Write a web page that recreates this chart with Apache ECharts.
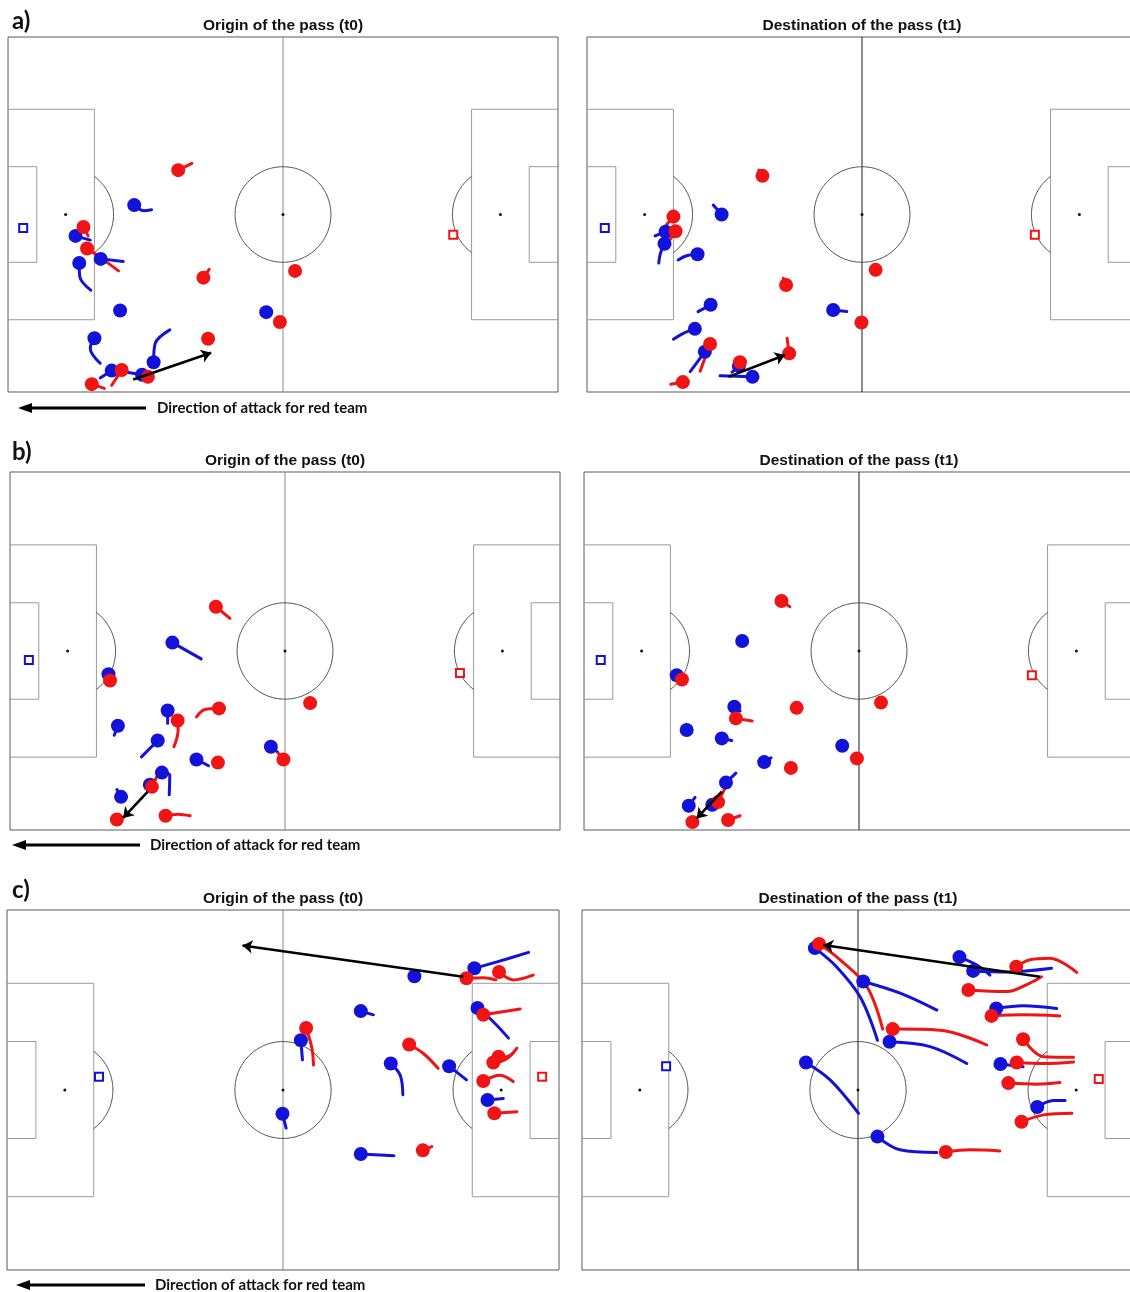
<!DOCTYPE html>
<html>
<head>
<meta charset="utf-8">
<script src="https://cdn.jsdelivr.net/npm/echarts@6/dist/echarts.min.js"></script>
<style>
  html, body { margin: 0; padding: 0; background: #ffffff; }
  #chart { width: 1130px; height: 1292px; }
</style>
</head>
<body>
<div id="chart"></div>
<script>
// Player positions in metres on a 105 x 68 pitch (x from the left goal line, y from the top touchline).
// Each trail lists the earlier positions of that player, starting next to the dot.

// ---- a) origin (t0) ----
const aOriginRed = [[32.5,25.5],[14.4,36.4],[15.1,40.5],[37.3,46.1],[54.8,44.8],[51.9,54.6],[38.2,57.8],[21.7,63.8],[26.7,65.1],[16.0,66.5]];
const aOriginRedTrails = [[[35.1,24.2]],[[15.3,38.1]],[[18.0,42.5],[21.1,44.8]],[[38.4,44.5]],[],[],[],[[19.8,66.7]],[],[[18.4,67.3]]];
const aOriginBlue = [[24.1,32.2],[12.9,38.1],[17.7,42.5],[13.6,43.3],[21.4,52.4],[49.3,52.7],[16.5,57.7],[27.8,62.3],[19.8,63.9],[25.6,64.7]];
const aOriginBlueTrails = [[[26.0,33.3],[27.4,33.1]],[[15.7,38.9]],[[22.0,43.0]],[[13.7,45.9],[15.8,48.5]],[],[],[[15.7,59.6],[17.6,62.5]],[[28.1,58.7],[30.9,56.1]],[[17.6,65.3]],[[22.7,64.2]]];
const aOriginKeepers = { blue: [2.9,36.6], red: [85.0,37.9] };
const aOriginPass = [[23.9,65.6],[38.8,60.5]];

// ---- a) destination (t1) ----
const aDestRed = [[33.5,26.6],[16.5,34.4],[16.9,37.2],[38.0,47.5],[55.1,44.6],[52.4,54.7],[38.6,60.6],[23.5,58.8],[29.2,62.3],[18.3,66.1]];
const aDestRedTrails = [[[32.8,25.5]],[[14.9,36.3]],[[15.2,39.8]],[[37.5,46.2]],[],[],[[38.2,57.7]],[[21.6,64.0]],[[28.8,63.4]],[[16.0,66.5]]];
const aDestBlue = [[25.7,34.0],[15.0,37.3],[14.8,39.6],[21.1,41.6],[23.6,51.3],[47.0,52.3],[20.6,55.9],[22.5,60.3],[29.0,63.0],[31.6,65.1]];
const aDestBlueTrails = [[[24.1,32.2]],[[13.0,38.1]],[[14.0,41.5],[13.7,43.3]],[[19.0,41.9],[17.4,42.7]],[[21.2,52.6]],[[49.6,52.6]],[[18.3,56.8],[16.5,57.9]],[[19.7,64.1]],[[27.7,64.2]],[[25.4,64.9]]];
const aDestKeepers = { blue: [3.4,36.6], red: [85.5,37.9] };
const aDestPass = [[27.0,65.1],[37.8,60.9]];

// ---- b) origin (t0) ----
const bOriginRed = [[39.3,25.6],[19.1,39.6],[39.9,44.9],[32.0,47.2],[57.3,43.9],[39.7,55.2],[52.2,54.6],[27.1,59.8],[20.4,66.0],[29.7,65.3]];
const bOriginRedTrails = [[[42.0,27.8]],[],[[37.2,45.1],[35.6,46.5]],[[32.1,49.0],[31.3,52.2]],[],[],[[51.2,53.4]],[[28.0,57.9]],[],[[32.1,65.0],[34.4,65.3]]];
const bOriginBlue = [[31.0,32.4],[18.8,38.4],[30.1,45.3],[20.6,48.2],[28.2,51.0],[35.6,54.6],[49.8,52.2],[29.0,57.1],[26.7,59.4],[21.2,61.7]];
const bOriginBlueTrails = [[[36.5,35.5]],[],[[30.1,47.7]],[[19.9,50.0]],[[25.1,54.1]],[[37.9,55.8]],[[51.1,53.2]],[[30.5,57.6],[30.4,61.3]],[],[[20.4,60.3]]];
const bOriginKeepers = { blue: [3.6,35.7], red: [85.9,38.2] };
const bOriginPass = [[26.3,60.7],[21.6,65.7]];

// ---- b) destination (t1) ----
const bDestRed = [[37.7,24.5],[18.7,39.4],[40.6,44.8],[56.7,43.8],[29.0,46.8],[52.1,54.4],[39.5,56.2],[25.6,62.7],[20.7,66.5],[27.5,66.1]];
const bDestRedTrails = [[[39.3,25.6]],[],[],[],[[32.1,47.3]],[],[],[[26.9,60.1]],[],[[29.8,65.3]]];
const bDestBlue = [[30.2,32.1],[17.7,38.6],[28.7,44.6],[19.6,49.0],[26.3,50.6],[49.3,52.0],[34.4,55.1],[27.1,59.0],[24.5,63.2],[20.0,63.4]];
const bDestBlueTrails = [[],[],[[29.8,45.4]],[],[[28.2,51.0]],[],[[35.7,54.3]],[[29.0,57.2]],[],[[21.2,61.8]]];
const bDestKeepers = { blue: [3.2,35.7], red: [85.5,38.6] };
const bDestPass = [[26.3,60.7],[21.5,65.8]];

// ---- c) origin (t0) ----
const cOriginRed = [[87.4,12.9],[93.6,11.7],[90.6,19.8],[56.9,22.3],[76.5,25.4],[93.5,27.7],[92.5,28.8],[90.6,32.3],[92.7,38.4],[79.1,45.4]];
const cOriginRedTrails = [[[90.6,12.8],[93.0,13.2]],[[96.3,13.2],[100.1,12.3]],[[97.6,18.7]],[[58.0,26.1],[58.3,29.3]],[[79.2,27.1],[82.0,29.9]],[[95.1,27.7],[97.0,26.1]],[[94.7,28.3],[96.3,27.0]],[[93.8,31.2],[96.3,32.4]],[[97.0,38.1]],[[80.8,44.7]]];
const cOriginBlue = [[88.9,11.0],[77.5,12.5],[67.3,19.1],[89.5,18.5],[55.9,24.6],[73.0,29.0],[84.1,29.5],[91.4,35.9],[52.4,38.5],[67.3,46.1]];
const cOriginBlueTrails = [[[93.2,9.8],[99.2,8.0]],[],[[69.7,19.8]],[[92.5,21.1],[95.4,24.2]],[[56.2,28.3]],[[74.8,31.2],[75.3,34.9]],[[87.4,32.1]],[[94.4,35.6]],[[53.1,41.2]],[[73.6,46.4]]];
const cOriginKeepers = { blue: [17.5,31.5], red: [101.8,31.5] };
const cOriginPass = [[86.8,12.6],[44.8,6.7]];

// ---- c) destination (t1) ----
const cDestRed = [[45.1,6.4],[82.6,10.7],[73.5,15.1],[77.9,20.0],[59.1,22.5],[83.9,24.4],[82.7,28.8],[81.1,32.7],[83.6,40.0],[69.2,45.7]];
const cDestRedTrails = [[[49.1,9.4],[54.2,14.5],[57.2,22.5]],[[85.2,9.4],[89.0,9.1],[94.1,11.8]],[[80.8,15.4],[85.2,13.8],[87.4,12.6]],[[83.9,19.8],[90.9,20.0]],[[68.1,22.7],[77.0,25.5]],[[87.8,27.7],[93.5,27.8]],[[87.8,29.0],[93.5,28.7]],[[86.5,32.9],[90.9,32.6]],[[87.8,38.7],[93.2,38.4]],[[73.8,45.3],[79.5,45.5]]];
const cDestBlue = [[44.3,7.2],[71.8,8.9],[74.4,11.5],[53.5,13.5],[78.8,18.6],[58.5,24.9],[42.6,28.8],[79.6,29.1],[86.6,37.2],[56.2,42.8]];
const cDestBlueTrails = [[[48.4,10.7],[52.9,16.4],[56.2,24.6]],[[75.1,10.4],[77.6,12.3]],[[80.8,11.7],[89.3,11.0]],[[60.5,15.7],[67.5,18.9]],[[83.9,18.1],[90.3,18.6]],[[66.2,25.8],[73.2,29.0]],[[47.2,32.1],[52.6,38.4]],[[83.9,29.6]],[[89.7,36.0],[91.9,36.0]],[[60.5,45.3],[67.5,45.8]]];
const cDestKeepers = { blue: [16.0,29.5], red: [98.3,31.9] };
const cDestPass = [[87.1,12.6],[45.9,6.6]];

const panelTitles = ['Origin of the pass (t0)', 'Destination of the pass (t1)'];
const rowLabels = ['a)', 'b)', 'c)'];
const directionText = 'Direction of attack for red team';

// ---- drawing ----
const RED = '#f01414';
const BLUE = '#1212d8';
const L = 105, W = 68;

const panels = [
  { box: { left: 8,   top: 37,  width: 550, height: 355 }, dark: false, red: aOriginRed, redT: aOriginRedTrails, blue: aOriginBlue, blueT: aOriginBlueTrails, gk: aOriginKeepers, pass: aOriginPass },
  { box: { left: 587, top: 37,  width: 550, height: 355 }, dark: true,  red: aDestRed,   redT: aDestRedTrails,   blue: aDestBlue,   blueT: aDestBlueTrails,   gk: aDestKeepers,   pass: aDestPass },
  { box: { left: 10,  top: 472, width: 550, height: 358 }, dark: false, red: bOriginRed, redT: bOriginRedTrails, blue: bOriginBlue, blueT: bOriginBlueTrails, gk: bOriginKeepers, pass: bOriginPass },
  { box: { left: 584, top: 472, width: 550, height: 358 }, dark: true,  red: bDestRed,   redT: bDestRedTrails,   blue: bDestBlue,   blueT: bDestBlueTrails,   gk: bDestKeepers,   pass: bDestPass },
  { box: { left: 7,   top: 910, width: 552, height: 360 }, dark: false, red: cOriginRed, redT: cOriginRedTrails, blue: cOriginBlue, blueT: cOriginBlueTrails, gk: cOriginKeepers, pass: cOriginPass },
  { box: { left: 582, top: 910, width: 552, height: 360 }, dark: true,  red: cDestRed,   redT: cDestRedTrails,   blue: cDestBlue,   blueT: cDestBlueTrails,   gk: cDestKeepers,   pass: cDestPass }
];

function arc(cx, cy, r, a0, a1, n) {
  const pts = [];
  for (let i = 0; i <= n; i++) {
    const a = a0 + (a1 - a0) * i / n;
    pts.push([cx + r * Math.cos(a), cy + r * Math.sin(a)]);
  }
  return pts;
}

function pitchLines(gi, dark) {
  const line = (data, color) => ({
    type: 'line', xAxisIndex: gi, yAxisIndex: gi, data, symbol: 'none', silent: true,
    lineStyle: { color, width: 1 }, z: 1
  });
  const boxCol = '#9a9a9a', circCol = '#555555';
  const midCol = dark ? '#1a1a1a' : '#8a8a8a';
  const pa = (W - 40.32) / 2, ga = (W - 18.32) / 2;
  const arcA = Math.acos(5.5 / 9.15);
  return [
    line([[L / 2, 0], [L / 2, W]], midCol),
    line(arc(L / 2, W / 2, 9.15, 0, Math.PI * 2, 120), circCol),
    line([[0, pa], [16.5, pa], [16.5, W - pa], [0, W - pa]], boxCol),
    line([[0, ga], [5.5, ga], [5.5, W - ga], [0, W - ga]], boxCol),
    line([[L, pa], [L - 16.5, pa], [L - 16.5, W - pa], [L, W - pa]], boxCol),
    line([[L, ga], [L - 5.5, ga], [L - 5.5, W - ga], [L, W - ga]], boxCol),
    line(arc(11, W / 2, 9.15, -arcA, arcA, 40), circCol),
    line(arc(L - 11, W / 2, 9.15, Math.PI - arcA, Math.PI + arcA, 40), circCol),
    {
      type: 'scatter', xAxisIndex: gi, yAxisIndex: gi, silent: true, z: 1,
      data: [[11, W / 2], [L / 2, W / 2], [L - 11, W / 2]],
      symbolSize: 3, itemStyle: { color: '#111', opacity: 1 }
    }
  ];
}

function trailSeries(gi, dots, trails, color) {
  const out = [];
  dots.forEach((p, i) => {
    const t = trails[i];
    if (!t || !t.length) return;
    out.push({
      type: 'line', xAxisIndex: gi, yAxisIndex: gi, silent: true, z: 2,
      data: [p].concat(t), symbol: 'none', smooth: 0.35,
      lineStyle: { color, width: 3, cap: 'round' }
    });
  });
  return out;
}

function dotSeries(gi, data, color) {
  return {
    type: 'scatter', xAxisIndex: gi, yAxisIndex: gi, z: 3, silent: true,
    data, symbolSize: 14, itemStyle: { color, opacity: 1 }
  };
}

function keeperSeries(gi, pos, color) {
  return {
    type: 'scatter', xAxisIndex: gi, yAxisIndex: gi, z: 3, silent: true,
    data: [pos], symbol: 'rect', symbolSize: 8,
    itemStyle: { color: '#fff', borderColor: color, borderWidth: 2, opacity: 1 }
  };
}

const grids = [], xAxes = [], yAxes = [];
let series = [];
panels.forEach((p, gi) => {
  grids.push(Object.assign({
    show: true, borderColor: '#5a5a5a', borderWidth: 1, backgroundColor: '#fff',
    containLabel: false, outerBoundsMode: 'none'
  }, p.box));
  xAxes.push({ type: 'value', gridIndex: gi, min: 0, max: L, show: false });
  yAxes.push({ type: 'value', gridIndex: gi, min: 0, max: W, inverse: true, show: false });
  series = series.concat(pitchLines(gi, p.dark));
  series = series.concat(trailSeries(gi, p.blue, p.blueT, BLUE));
  series = series.concat(trailSeries(gi, p.red, p.redT, RED));
  series.push(dotSeries(gi, p.blue, BLUE));
  series.push(dotSeries(gi, p.red, RED));
  series.push(keeperSeries(gi, p.gk.blue, BLUE));
  series.push(keeperSeries(gi, p.gk.red, RED));
  series.push({
    type: 'lines', coordinateSystem: 'cartesian2d', xAxisIndex: gi, yAxisIndex: gi, z: 4, silent: true,
    data: [{ coords: p.pass }], symbol: ['none', 'arrow'], symbolSize: 10,
    lineStyle: { color: '#000', width: 2.6, opacity: 1 }
  });
});

// Titles, row labels and the attack-direction arrows
const graphic = [];
panels.forEach((p, gi) => {
  graphic.push({
    type: 'text', x: p.box.left + p.box.width / 2, y: p.box.top - 11,
    style: { text: panelTitles[gi % 2], font: 'bold 15.5px "Liberation Sans", Arial, sans-serif', fill: '#111', align: 'center', verticalAlign: 'middle' }
  });
});
const labelY = [21, 452, 890];
rowLabels.forEach((t, i) => {
  graphic.push({
    type: 'text', x: 12, y: labelY[i],
    style: { text: t, font: 'bold 24px Lato, "Open Sans", sans-serif', fill: '#111', align: 'left', verticalAlign: 'middle' }
  });
});
const dirRows = [{ y: 408, x0: 18, x1: 146, tx: 157 }, { y: 845, x0: 12, x1: 140, tx: 150 }, { y: 1285, x0: 16, x1: 145, tx: 155 }];
dirRows.forEach(d => {
  graphic.push({ type: 'line', shape: { x1: d.x0 + 12, y1: d.y, x2: d.x1, y2: d.y }, style: { stroke: '#000', lineWidth: 3.2 } });
  graphic.push({ type: 'polygon', shape: { points: [[d.x0, d.y], [d.x0 + 14, d.y - 5], [d.x0 + 14, d.y + 5]] }, style: { fill: '#000' } });
  graphic.push({
    type: 'text', x: d.tx, y: d.y,
    style: { text: directionText, font: 'bold 15px Lato, "Open Sans", sans-serif', fill: '#111', align: 'left', verticalAlign: 'middle' }
  });
});

const chart = echarts.init(document.getElementById('chart'), null, { renderer: 'canvas' });
chart.setOption({
  animation: false,
  backgroundColor: '#ffffff',
  grid: grids,
  xAxis: xAxes,
  yAxis: yAxes,
  series,
  graphic
});
</script>
</body>
</html>
